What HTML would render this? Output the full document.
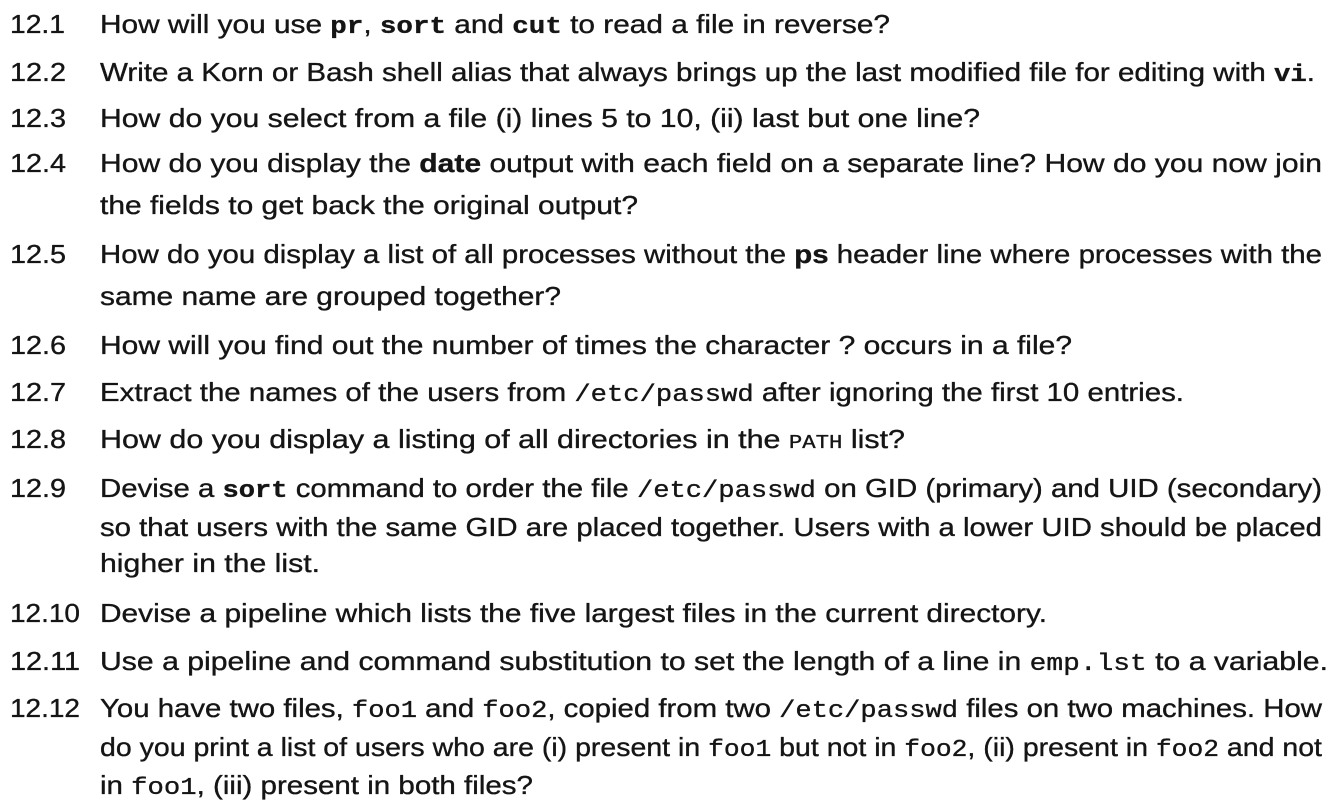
<!DOCTYPE html>
<html><head><meta charset="utf-8"><style>
html,body{margin:0;padding:0;background:#fff;width:1338px;height:808px;overflow:hidden}
svg{display:block}
text{font-family:"Liberation Sans",sans-serif;font-size:26px;fill:#151515;stroke:#151515;stroke-width:0.35}
.m{font-family:"Liberation Mono",monospace;font-size:24px}
.b{font-weight:bold}
</style></head><body>
<svg width="1338" height="808" xmlns="http://www.w3.org/2000/svg">
<g>
<text x="10" y="33" textLength="55" lengthAdjust="spacingAndGlyphs">12.1</text>
<text x="10" y="81" textLength="56" lengthAdjust="spacingAndGlyphs">12.2</text>
<text x="10" y="127" textLength="56" lengthAdjust="spacingAndGlyphs">12.3</text>
<text x="10" y="172" textLength="56" lengthAdjust="spacingAndGlyphs">12.4</text>
<text x="10" y="263" textLength="56" lengthAdjust="spacingAndGlyphs">12.5</text>
<text x="10" y="354" textLength="56" lengthAdjust="spacingAndGlyphs">12.6</text>
<text x="10" y="401" textLength="56" lengthAdjust="spacingAndGlyphs">12.7</text>
<text x="10" y="448" textLength="56" lengthAdjust="spacingAndGlyphs">12.8</text>
<text x="10" y="497" textLength="56" lengthAdjust="spacingAndGlyphs">12.9</text>
<text x="10" y="622" textLength="70" lengthAdjust="spacingAndGlyphs">12.10</text>
<text x="10" y="670" textLength="70" lengthAdjust="spacingAndGlyphs">12.11</text>
<text x="10" y="717" textLength="70" lengthAdjust="spacingAndGlyphs">12.12</text>
</g>
<g>
<text x="100" y="33" textLength="790" lengthAdjust="spacingAndGlyphs">How will you use <tspan class="m b">pr</tspan>, <tspan class="m b">sort</tspan> and <tspan class="m b">cut</tspan> to read a file in reverse?</text>
<text x="100" y="81" textLength="1215" lengthAdjust="spacingAndGlyphs">Write a Korn or Bash shell alias that always brings up the last modified file for editing with <tspan class="m b">vi</tspan>.</text>
<text x="100" y="127" textLength="880" lengthAdjust="spacingAndGlyphs">How do you select from a file (i) lines 5 to 10, (ii) last but one line?</text>
<text x="100" y="172" textLength="1222" lengthAdjust="spacingAndGlyphs">How do you display the <tspan class="b">date</tspan> output with each field on a separate line? How do you now join</text>
<text x="100" y="214" textLength="538" lengthAdjust="spacingAndGlyphs">the fields to get back the original output?</text>
<text x="100" y="263" textLength="1222" lengthAdjust="spacingAndGlyphs">How do you display a list of all processes without the <tspan class="b">ps</tspan> header line where processes with the</text>
<text x="100" y="305" textLength="461" lengthAdjust="spacingAndGlyphs">same name are grouped together?</text>
<text x="100" y="354" textLength="972" lengthAdjust="spacingAndGlyphs">How will you find out the number of times the character ? occurs in a file?</text>
<text x="100" y="401" textLength="1084" lengthAdjust="spacingAndGlyphs">Extract the names of the users from <tspan class="m">/etc/passwd</tspan> after ignoring the first 10 entries.</text>
<text x="100" y="448" textLength="805" lengthAdjust="spacingAndGlyphs">How do you display a listing of all directories in the <tspan class="m" style="font-size:19px">PATH</tspan> list?</text>
<text x="100" y="497" textLength="1222" lengthAdjust="spacingAndGlyphs">Devise a <tspan class="m b">sort</tspan> command to order the file <tspan class="m">/etc/passwd</tspan> on GID (primary) and UID (secondary)</text>
<text x="100" y="536" textLength="1222" lengthAdjust="spacingAndGlyphs">so that users with the same GID are placed together. Users with a lower UID should be placed</text>
<text x="100" y="572" textLength="220" lengthAdjust="spacingAndGlyphs">higher in the list.</text>
<text x="100" y="622" textLength="947" lengthAdjust="spacingAndGlyphs">Devise a pipeline which lists the five largest files in the current directory.</text>
<text x="100" y="670" textLength="1228" lengthAdjust="spacingAndGlyphs">Use a pipeline and command substitution to set the length of a line in <tspan class="m">emp.lst</tspan> to a variable.</text>
<text x="100" y="717" textLength="1222" lengthAdjust="spacingAndGlyphs">You have two files, <tspan class="m">foo1</tspan> and <tspan class="m">foo2</tspan>, copied from two <tspan class="m">/etc/passwd</tspan> files on two machines. How</text>
<text x="100" y="756" textLength="1222" lengthAdjust="spacingAndGlyphs">do you print a list of users who are (i) present in <tspan class="m">foo1</tspan> but not in <tspan class="m">foo2</tspan>, (ii) present in <tspan class="m">foo2</tspan> and not</text>
<text x="100" y="794" textLength="433" lengthAdjust="spacingAndGlyphs">in <tspan class="m">foo1</tspan>, (iii) present in both files?</text>
</g>
</svg>
</body></html>
